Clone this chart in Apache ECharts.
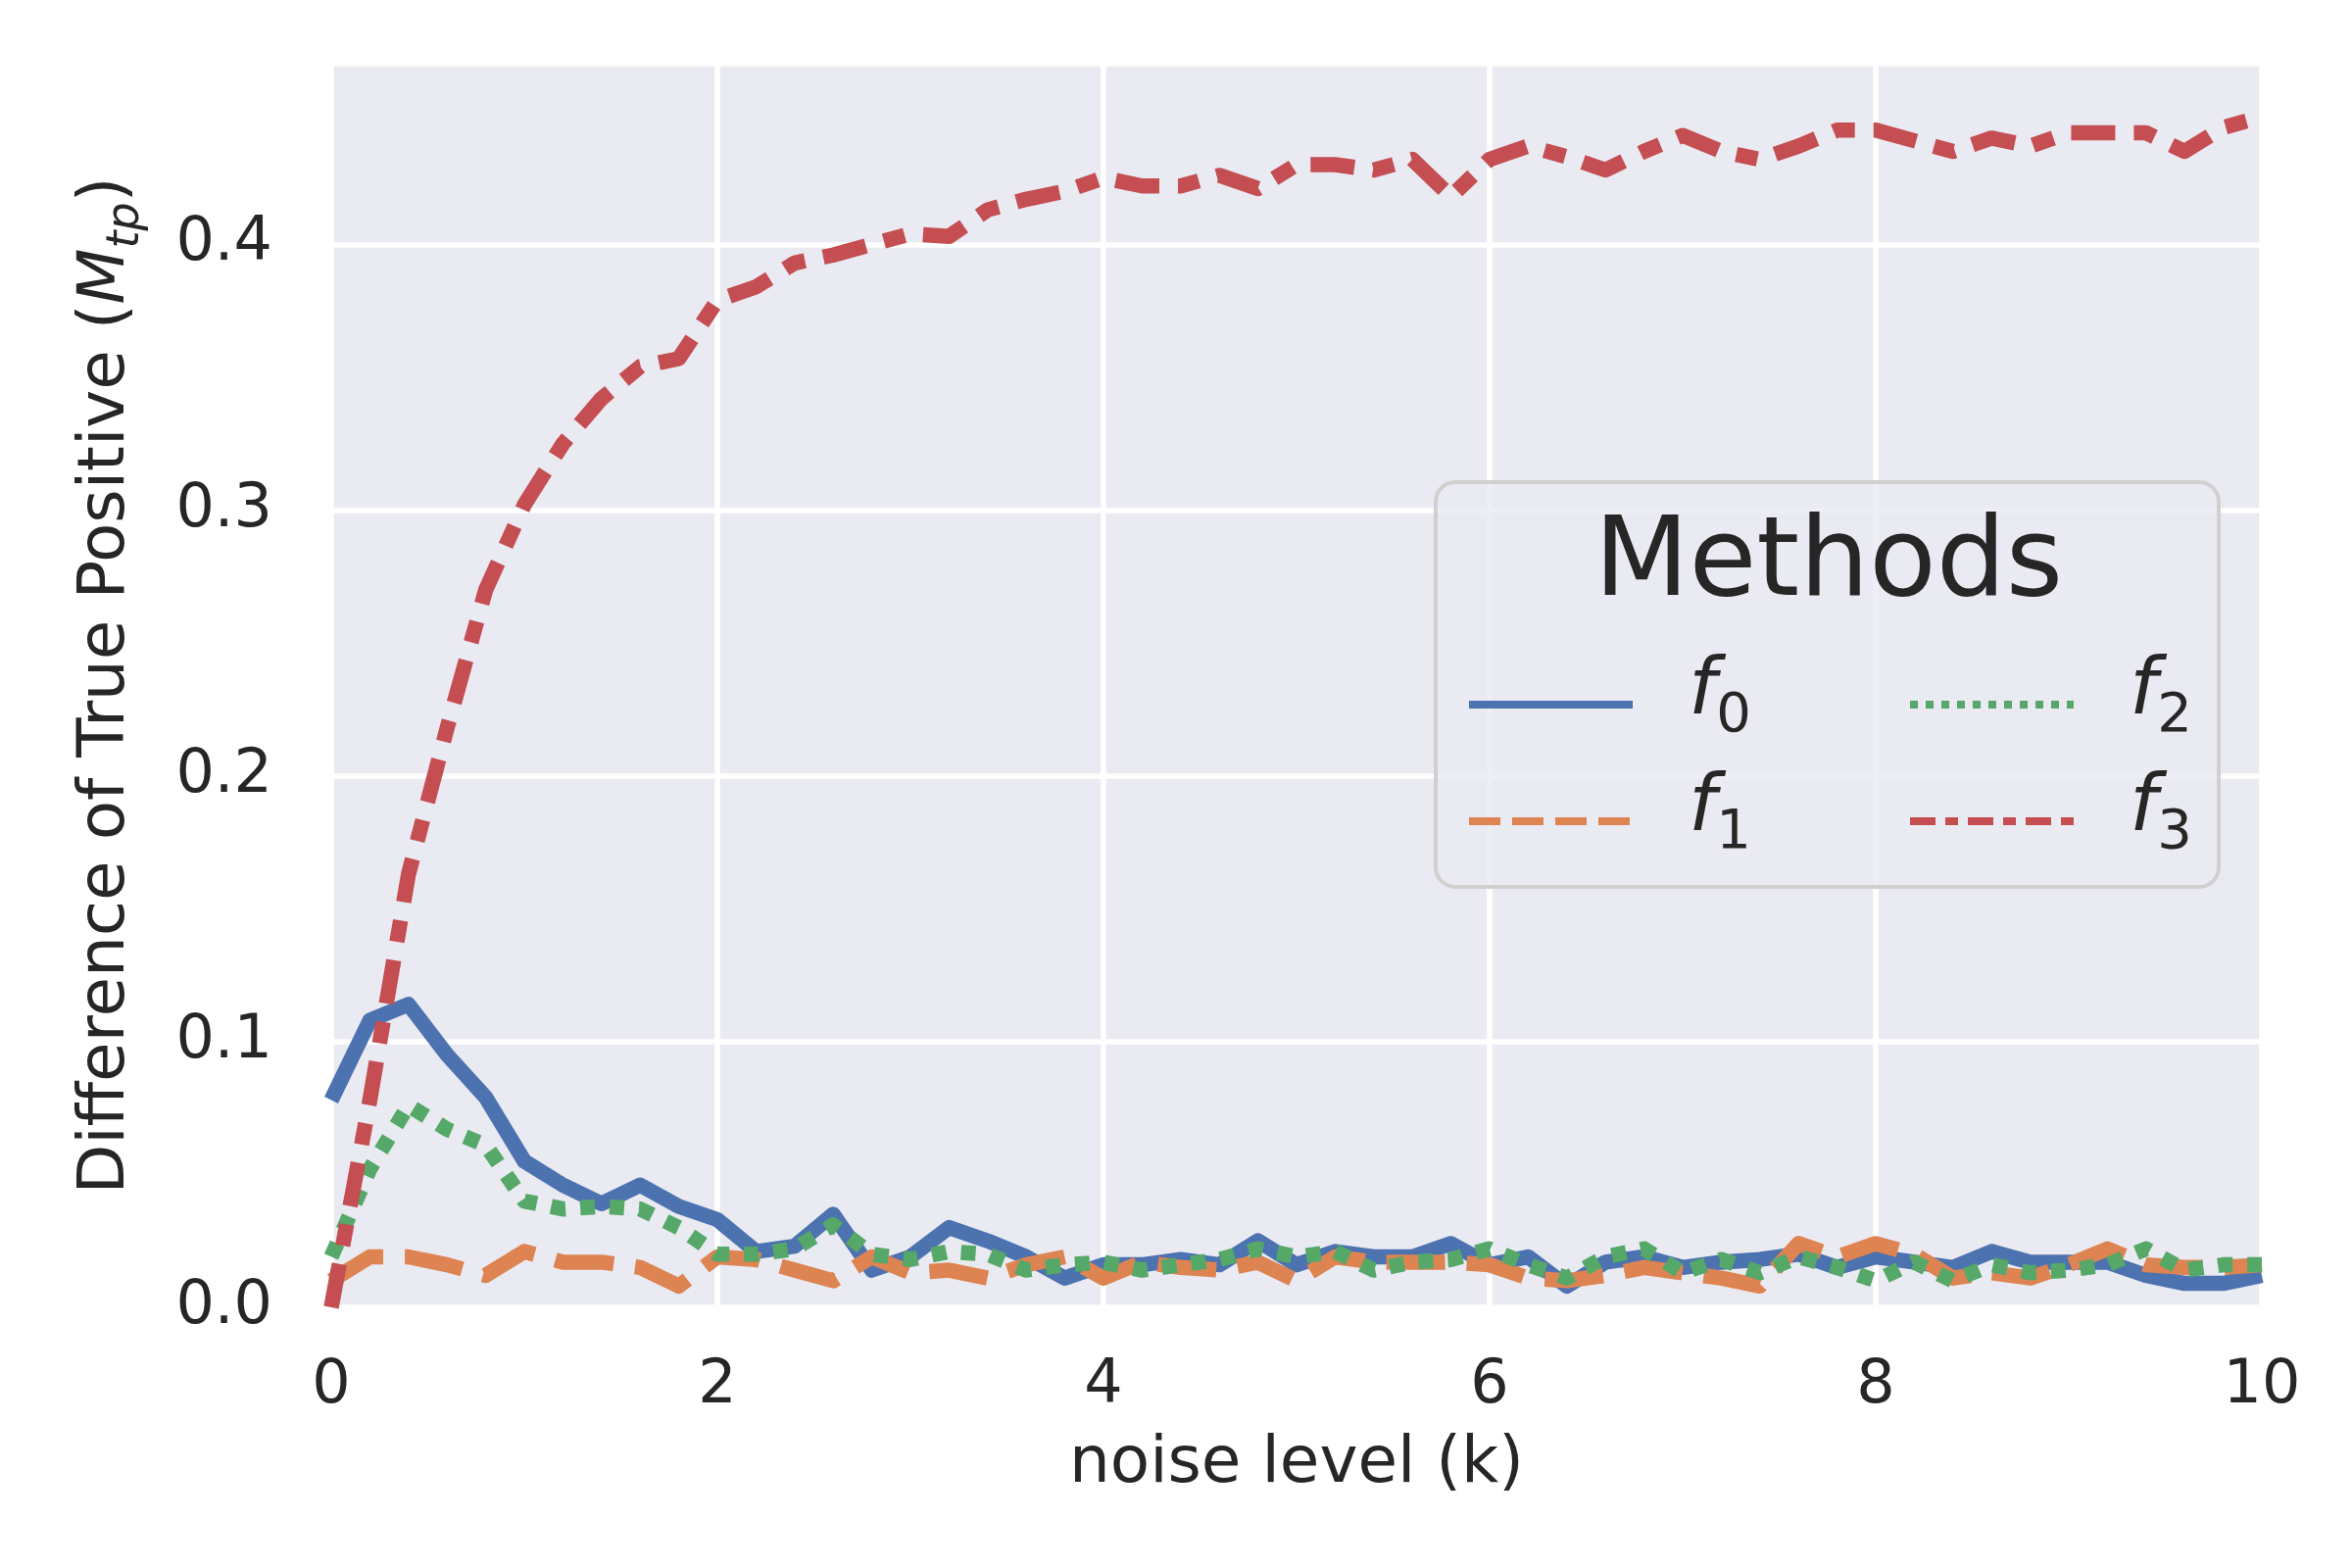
<!DOCTYPE html>
<html>
<head>
<meta charset="utf-8">
<script src="https://cdn.jsdelivr.net/npm/echarts@6/dist/echarts.min.js"></script>
<style>
  html, body { margin: 0; padding: 0; background: #fff; }
  #chart { width: 2400px; height: 1600px; }
</style>
</head>
<body>
<div id="chart"></div>
<script>
// noise level k on the x axis
const noiseLevels = [0, 0.2, 0.4, 0.6, 0.8, 1, 1.2, 1.4, 1.6, 1.8, 2, 2.2, 2.4, 2.6, 2.8, 3, 3.2, 3.4, 3.6, 3.8,
  4, 4.2, 4.4, 4.6, 4.8, 5, 5.2, 5.4, 5.6, 5.8, 6, 6.2, 6.4, 6.6, 6.8, 7, 7.2, 7.4, 7.6, 7.8,
  8, 8.2, 8.4, 8.6, 8.8, 9, 9.2, 9.4, 9.6, 9.8, 10];

const f0 = [0.078, 0.108, 0.114, 0.095, 0.079, 0.055, 0.046, 0.039, 0.046, 0.038, 0.033, 0.021, 0.023, 0.035, 0.014, 0.019, 0.030, 0.025, 0.019, 0.011,
  0.016, 0.016, 0.018, 0.016, 0.025, 0.016, 0.021, 0.019, 0.019, 0.024, 0.016, 0.019, 0.008, 0.017, 0.019,
  0.015, 0.017, 0.018, 0.020, 0.015, 0.019, 0.017, 0.015, 0.021, 0.017, 0.017, 0.017, 0.012, 0.009, 0.009, 0.012];
const f1 = [0.010, 0.019, 0.019, 0.016, 0.012, 0.021, 0.017, 0.017, 0.015, 0.008, 0.019, 0.018, 0.014, 0.010, 0.019, 0.013, 0.014, 0.011, 0.016, 0.019,
  0.011, 0.017, 0.015, 0.014, 0.017, 0.010, 0.019, 0.017, 0.017, 0.017, 0.016, 0.011, 0.010, 0.012, 0.015,
  0.013, 0.011, 0.008, 0.024, 0.019, 0.024, 0.020, 0.011, 0.013, 0.011, 0.016, 0.022, 0.016, 0.015, 0.015, 0.016];
const f2 = [0.019, 0.052, 0.076, 0.067, 0.061, 0.040, 0.037, 0.038, 0.037, 0.030, 0.020, 0.020, 0.022, 0.031, 0.020, 0.018, 0.021, 0.020, 0.014, 0.016,
  0.017, 0.014, 0.016, 0.018, 0.022, 0.019, 0.021, 0.014, 0.017, 0.018, 0.022, 0.016, 0.011, 0.019, 0.022,
  0.013, 0.018, 0.013, 0.019, 0.015, 0.010, 0.017, 0.010, 0.016, 0.013, 0.014, 0.016, 0.022, 0.014, 0.016, 0.016];
const f3 = [0.000, 0.078, 0.163, 0.218, 0.270, 0.302, 0.325, 0.342, 0.354, 0.357, 0.379, 0.384, 0.393, 0.396, 0.400, 0.404,
  0.403, 0.413, 0.417, 0.420, 0.425, 0.422, 0.422, 0.426, 0.421, 0.430, 0.430, 0.428, 0.432, 0.418,
  0.432, 0.437, 0.433, 0.428, 0.435, 0.441, 0.435, 0.432, 0.437, 0.443, 0.443, 0.439, 0.435, 0.440,
  0.437, 0.442, 0.442, 0.442, 0.435, 0.444, 0.448];

const xTicks = [0, 2, 4, 6, 8, 10];
const yTicks = [0.0, 0.1, 0.2, 0.3, 0.4];
const methodNames = ['f0', 'f1', 'f2', 'f3'];

const FONT = 'DejaVu Sans';
const TXT = '#262626';
const colors = ['#4C72B0', '#DD8452', '#55A868', '#C44E52'];
const plotDash = ['solid', [60, 22], [15, 15], [45, 19, 22, 19]];
const legendDash = ['solid', [32, 12], [8, 8], [26, 10, 13, 10]];

function pairs(ys) {
  return noiseLevels.map((x, i) => [x, ys[i]]);
}

const seriesValues = [f0, f1, f2, f3];
const series = methodNames.map((name, i) => ({
  name: name,
  type: 'line',
  data: pairs(seriesValues[i]),
  showSymbol: false,
  symbol: 'none',
  z: 2 + i,
  lineStyle: {
    color: colors[i],
    width: 15.5,
    type: plotDash[i],
    cap: 'butt',
    join: 'round'
  },
  itemStyle: { color: colors[i] }
}));

// legend label: italic f with subscript index
const legendRich = {
  f: { fontFamily: FONT, fontStyle: 'italic', fontSize: 80, lineHeight: 80, color: TXT, verticalAlign: 'bottom', padding: [0, 0, 12, 0] },
  s: { fontFamily: FONT, fontSize: 56, lineHeight: 56, color: TXT, verticalAlign: 'bottom' }
};
const legendPos = [[1495, 667], [1495, 786], [1945, 667], [1945, 786]];
const legends = methodNames.map((name, i) => ({
  data: [{
    name: name,
    lineStyle: { width: 8, type: legendDash[i], cap: 'butt' },
    itemStyle: { opacity: 0 }
  }],
  left: legendPos[i][0],
  top: legendPos[i][1],
  padding: 0,
  itemWidth: 167,
  itemHeight: 20,
  selectedMode: false,
  z: 6,
  formatter: n => '{f|f}{s|' + n.slice(1) + '}',
  textStyle: { padding: [0, 0, 0, 52], rich: legendRich }
}));

const chart = echarts.init(document.getElementById('chart'), null, { renderer: 'canvas' });
chart.setOption({
  backgroundColor: '#ffffff',
  animation: false,
  color: colors,
  grid: {
    left: 338, right: 92, top: 65, bottom: 266,
    show: true, backgroundColor: '#EAEAF2', borderWidth: 0
  },
  xAxis: {
    type: 'value',
    min: xTicks[0], max: xTicks[xTicks.length - 1], interval: 2,
    name: 'noise level (k)',
    nameLocation: 'middle',
    nameGap: 128,
    nameTextStyle: { fontFamily: FONT, fontSize: 66, color: TXT },
    axisLine: { show: false }, axisTick: { show: false },
    axisLabel: { fontFamily: FONT, fontSize: 62, color: TXT, margin: 50,
      formatter: v => xTicks.includes(v) ? String(v) : '' },
    splitLine: { show: true, lineStyle: { color: '#ffffff', width: 5.5 } }
  },
  yAxis: {
    type: 'value',
    min: 0, max: 0.468, interval: 0.1,
    name: '{t|Difference of True Positive (}{m|M}{s|tp}{t|)}',
    nameLocation: 'middle',
    nameRotate: 90,
    nameGap: 186,
    nameTextStyle: {
      rich: {
        t: { fontFamily: FONT, fontSize: 66, lineHeight: 66, color: TXT, verticalAlign: 'bottom', padding: [0, 0, 10, 0] },
        m: { fontFamily: FONT, fontStyle: 'italic', fontSize: 66, lineHeight: 66, color: TXT, verticalAlign: 'bottom', padding: [0, 0, 10, 0] },
        s: { fontFamily: FONT, fontStyle: 'italic', fontSize: 46, lineHeight: 46, color: TXT, verticalAlign: 'bottom' }
      }
    },
    axisLine: { show: false }, axisTick: { show: false },
    axisLabel: { fontFamily: FONT, fontSize: 62, color: TXT, margin: 60, showMaxLabel: false,
      formatter: v => yTicks.some(t => Math.abs(t - v) < 1e-9) ? v.toFixed(1) : '' },
    splitLine: { show: true, lineStyle: { color: '#ffffff', width: 5.5 } }
  },
  legend: legends,
  graphic: [
    {
      type: 'rect', z: 4,
      shape: { x: 1465, y: 492, width: 799, height: 413, r: 20 },
      style: { fill: 'rgba(234,234,242,0.8)', stroke: '#d0d0d0', lineWidth: 4 }
    },
    {
      type: 'text', z: 5,
      x: 1866, y: 578,
      style: { text: 'Methods', font: '112px "DejaVu Sans"', fill: TXT, align: 'center', verticalAlign: 'middle' }
    }
  ],
  series: series
});
</script>
</body>
</html>
